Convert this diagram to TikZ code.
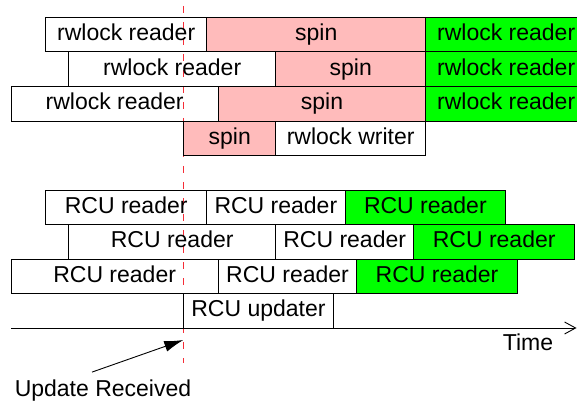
\documentclass[tikz,border=0pt]{standalone}
\usepackage{fontspec}
\setmainfont{Liberation Sans}
\usetikzlibrary{arrows.meta, positioning}

\definecolor{spinred}{RGB}{255,187,187}
\definecolor{okgreen}{RGB}{0,255,0}
\definecolor{markred}{RGB}{245,45,55}

\begin{document}
\begin{tikzpicture}[x=1pt, y=-1pt, node distance=0pt,
    blk/.style={draw, line width=0.9pt, minimum height=34.6pt, inner sep=0pt, outer sep=0pt,
        text height=16.6pt, text depth=4.8pt, font=\fontsize{23}{27}\selectfont},
    spinblk/.style={blk, fill=spinred},
    goblk/.style={blk, fill=okgreen},
    lbl/.style={inner sep=0pt, text height=16.6pt, text depth=4.8pt, font=\fontsize{23}{27}\selectfont}]
    \useasboundingbox (0,0) rectangle (577,403);

    % update received marker
    \coordinate (dtop) at (183.7,6);
    \coordinate (dbot) at (183.7,363);
    \draw[color=markred, line width=1.3pt, dash pattern=on 7pt off 9pt] (dtop) -- (dbot);

    % rwlock
    \node[blk, minimum width=161pt, anchor=north west] (rw1a) at (45.7,17.3) {rwlock reader};
    \node[spinblk, minimum width=219pt] (rw1b) [right=of rw1a] {spin};
    \node[goblk, minimum width=161pt] (rw1c) [right=of rw1b] {rwlock reader};

    \node[blk, minimum width=207pt, anchor=north west] (rw2a) at (68.7,51.9) {rwlock reader};
    \node[spinblk, minimum width=150pt] (rw2b) [right=of rw2a] {spin};
    \node[goblk, minimum width=161pt] (rw2c) [right=of rw2b] {rwlock reader};

    \node[blk, minimum width=207.3pt, anchor=north west] (rw3a) at (11,86.5) {rwlock reader};
    \node[spinblk, minimum width=207.4pt] (rw3b) [right=of rw3a] {spin};
    \node[goblk, minimum width=161pt] (rw3c) [right=of rw3b] {rwlock reader};

    \node[spinblk, minimum width=92pt, anchor=north west] (rw4a) at (183.7,121.1) {spin};
    \node[blk, minimum width=150pt] (rw4b) [right=of rw4a] {rwlock writer};

    % RCU
    \node[blk, minimum width=161pt, anchor=north west] (rcu1a) at (45.7,190) {RCU reader};
    \node[blk, minimum width=138.3pt] (rcu1b) [right=of rcu1a] {RCU reader};
    \node[goblk, minimum width=160.7pt] (rcu1c) [right=of rcu1b] {RCU reader};

    \node[blk, minimum width=207pt, anchor=north west] (rcu2a) at (68.7,224.5) {RCU reader};
    \node[blk, minimum width=138pt] (rcu2b) [right=of rcu2a] {RCU reader};
    \node[goblk, minimum width=161pt] (rcu2c) [right=of rcu2b] {RCU reader};

    \node[blk, minimum width=207.3pt, anchor=north west] (rcu3a) at (11,259) {RCU reader};
    \node[blk, minimum width=138.4pt] (rcu3b) [right=of rcu3a] {RCU reader};
    \node[goblk, minimum width=160.6pt] (rcu3c) [right=of rcu3b] {RCU reader};

    \node[blk, minimum width=149.6pt, anchor=north west] (rcu4a) at (183.7,293.5) {RCU updater};

    % time axis
    \coordinate (t0) at (11,328);
    \coordinate (t1) at (576.5,328);
    \draw[line width=0.9pt, -{Straight Barb[length=11pt,width=12pt]}] (t0) -- (t1);
    \node[lbl] (time) at (528,344.3) {Time};

    \node[lbl] (upd) at (103,391) {Update Received};
    \coordinate (recv) at (183.3,340);
    \draw[line width=0.9pt, -{Latex[length=19pt,width=11pt]}] ([xshift=-11pt,yshift=8pt]upd.north) -- (recv);
\end{tikzpicture}
\end{document}
